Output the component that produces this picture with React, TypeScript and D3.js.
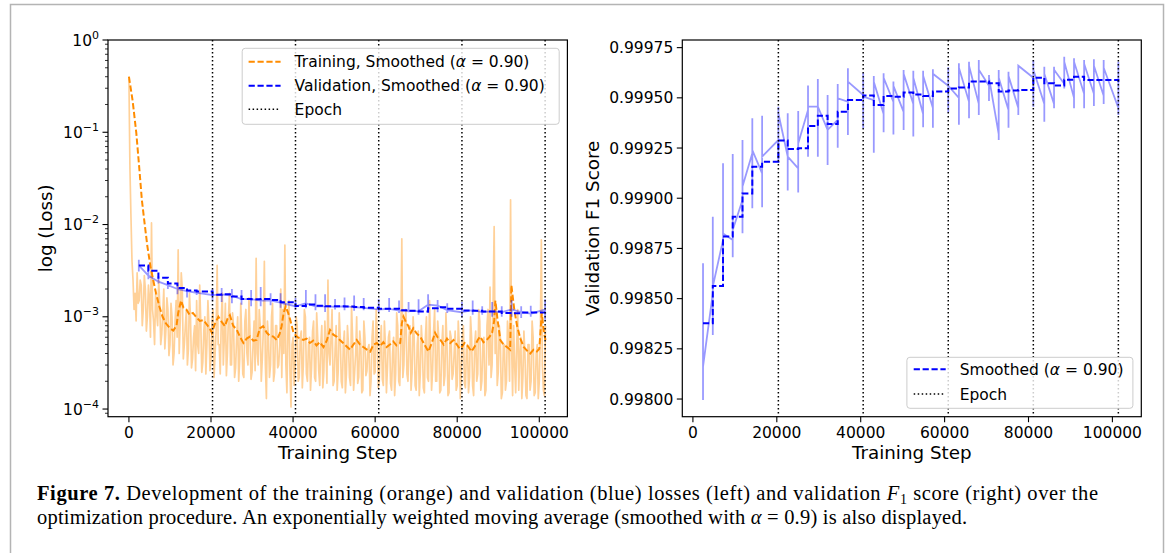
import React from 'react';
import * as d3 from 'd3';

// ---------------- DATA ----------------
const TRAIN_STEP_INTERVAL = 250;
// raw training loss, in units of 1e-4, one value every TRAIN_STEP_INTERVAL steps
const trainLossRawE4 = [
  3800, 400, 120, 40, 25, 12, 18, 9, 30, 14,
  15, 25, 22, 8, 12, 28, 20, 7, 10, 22,
  16, 6, 104, 12, 9, 5, 18, 11, 8, 25,
  14, 5, 6.5, 11, 20, 4.5, 7, 16, 12, 3.8,
  5, 14, 10, 3, 4, 9, 15, 6, 53, 4,
  9, 30, 20, 3.5, 5, 8, 12, 3, 4.5, 18,
  10, 2.8, 3.5, 6, 8, 2.6, 15, 5, 4, 22,
  9, 2.5, 3.2, 7, 10, 2.4, 5, 15, 8, 2.6,
  3.5, 9, 12, 2.2, 4, 7, 36, 5, 5, 2.4,
  9, 18, 3, 6, 14, 2.3, 4, 10, 18, 3,
  3, 11, 8, 2.2, 2.8, 6, 10, 2, 3.5, 14,
  6, 2.4, 2.2, 9, 12, 4, 3, 16, 7, 2.1,
  2.5, 5, 9, 2.6, 43, 4, 3, 12, 8, 2,
  3.5, 7, 40, 3, 1.3, 9, 6, 2.2, 3, 10,
  14, 2, 2.5, 8, 8, 2.8, 3, 5, 20, 2.2,
  12, 4, 60, 3, 1.5, 7, 15, 2.4, 1.05, 5,
  6, 1.8, 2.5, 10, 8, 2, 2.2, 6, 7, 1.7,
  3, 12, 10, 2.4, 2, 5, 6, 1.6, 2.8, 7,
  9, 2.2, 2, 11, 6, 2.6, 1.8, 5, 8, 1.7,
  2.5, 9, 5, 1.9, 25, 4, 3, 6, 12, 1.8,
  2, 4.5, 8, 1.6, 2.6, 11, 6, 2, 1.7, 5,
  7, 1.5, 2.4, 8, 5, 2.2, 1.8, 13, 6, 1.6,
  2.5, 4, 10, 1.9, 2.2, 7, 5, 1.5, 1.6, 9,
  6, 2.3, 2.6, 4.5, 5, 1.4, 2, 6, 9, 2.4,
  2.5, 12, 7, 1.7, 2, 5, 8, 2.1, 1.8, 9,
  5, 1.5, 2.8, 6, 7, 1.9, 1.6, 4, 6, 1.4,
  2.4, 11, 8, 2, 1.8, 5, 70, 2.2, 3, 9,
  12, 2.4, 2, 6, 8, 1.6, 2.5, 10, 6, 1.8,
  1.6, 5, 7, 1.4, 2.4, 8, 5, 1.7, 1.5, 6,
  10, 2.2, 2, 15, 5, 1.6, 2.6, 7, 12, 2,
  2, 9, 6, 1.5, 1.6, 5, 8, 1.8, 2.3, 11,
  5, 1.4, 1.5, 7, 6, 2.1, 2.4, 4, 7, 1.6,
  1.8, 9, 5, 1.3, 2.5, 6, 8, 1.9, 1.7, 4.5,
  5, 1.5, 2.2, 10, 6, 1.8, 1.4, 5, 7, 2,
  2.4, 12, 9, 1.6, 2, 5, 6, 1.4, 1.6, 8,
  12, 3, 21, 2.2, 3, 15, 95, 4, 12, 1.8,
  2.5, 8, 6, 1.3, 1.5, 5, 5, 1.6, 2, 9,
  6, 2, 185, 5, 1.4, 8, 3, 1.5, 5, 12,
  1.6, 4, 6, 1.3, 2.2, 7, 4, 1.4, 1.3, 5,
  5, 1.6, 2, 9, 6, 1.4, 1.5, 4, 5, 1.3,
  2, 6, 68, 3, 1.6, 1.4, 8,
];

// smoothed training loss (EWMA, alpha = 0.9)
const trainSmoothSteps = [
  0, 900, 1800, 2500, 3150, 3850, 4500, 5250, 6000, 6600,
  7400, 8200, 9000, 10000, 10800, 11600, 12000, 12700, 13300, 14000,
  14800, 15600, 16500, 17300, 18200, 19000, 19700, 20200, 21000, 21800,
  22600, 23400, 24000, 24600, 25400, 26300, 27100, 27900, 28700, 29500,
  30300, 31100, 31900, 32700, 33600, 34400, 35200, 36000, 36700, 37200,
  37700, 38200, 38800, 39300, 40100, 40900, 41700, 42500, 43300, 44100,
  44900, 45700, 46500, 47400, 48200, 49000, 49800, 50600, 51400, 52200,
  53000, 53900, 54700, 55500, 56300, 57100, 58000, 58800, 59600, 60400,
  61200, 62000, 62800, 63600, 64400, 65200, 66100, 66500, 66900, 67500,
  68100, 68700, 69300, 70100, 71000, 72000, 73000, 73800, 74600, 75200,
  75900, 76700, 77500, 78300, 79100, 79900, 80600, 81100, 81800, 82600,
  83500, 84300, 85000, 85600, 86400, 87200, 87900, 88500, 89000, 89300,
  89800, 90500, 91300, 92100, 92900, 93200, 93900, 94600, 95400, 96200,
  97000, 97800, 98600, 99400, 100000, 100300, 100600, 101100, 101500,
];
const trainSmoothLossE4 = [
  4000, 2200, 980, 420, 185, 100, 58, 35, 24, 18,
  13, 10, 8.5, 7.5, 7.1, 8.0, 11, 15, 12.5, 12,
  10.5, 11, 9.8, 9.0, 9.2, 8.2, 7.5, 6.7, 8.5, 10,
  8.8, 7.9, 9.5, 10.4, 8.0, 7.2, 6.0, 5.2, 5.8, 6.1,
  5.5, 5.6, 7.5, 7.9, 6.7, 6.2, 6.1, 5.6, 6.5, 7.9,
  11, 13, 11, 9.3, 6.7, 6.1, 5.8, 5.6, 5.8, 5.2,
  5.5, 4.9, 5.3, 4.7, 5.5, 7.2, 6.4, 6.1, 5.6, 5.2,
  4.8, 4.4, 5.0, 5.6, 5.0, 4.7, 4.4, 4.2, 5.0, 5.2,
  4.8, 5.3, 4.7, 5.0, 5.4, 4.9, 5.2, 8.5, 10, 8.8,
  7.9, 6.7, 7.5, 6.6, 6.1, 5.0, 4.2, 5.2, 6.7, 6.0,
  5.6, 5.0, 5.8, 5.2, 5.6, 5.0, 4.5, 4.7, 5.2, 4.8,
  4.2, 4.8, 5.6, 6.1, 5.3, 5.6, 6.1, 6.7, 9.0, 15,
  9.5, 5.6, 5.0, 4.7, 4.4, 22, 12, 7.9, 5.8, 4.7,
  4.3, 4.0, 4.4, 4.2, 4.5, 7.0, 11, 7.0, 5.6,
];

// validation evaluations
const valSteps = [
  2410, 4740, 7180, 9490, 11820, 14160, 16500, 20370, 22600, 25100,
  27440, 29780, 32110, 34520, 36950, 40590, 43120, 45460, 47800, 50230,
  52540, 54880, 57210, 60870, 63410, 65820, 68150, 70580, 72900, 75230,
  77570, 81150, 83770, 86090, 88520, 90850, 93260, 95590, 97920, 101420,
];
// validation loss, units of 1e-3
const valLossLoE3 = [
  3.1, 2.55, 2.3, 2.0, 1.75, 1.62, 1.72, 1.5, 1.45, 1.4,
  1.35, 1.3, 1.3, 1.33, 1.25, 1.2, 1.24, 1.18, 1.13, 1.2,
  1.18, 1.16, 1.18, 1.13, 1.13, 1.1, 1.12, 1.05, 1.1, 1.12,
  1.1, 0.98, 1.05, 1.05, 1.0, 1.0, 1.0, 0.97, 1.0, 0.93,
];
const valLossHiE3 = [
  4.15, 3.6, 2.75, 2.4, 2.1, 1.9, 1.95, 2.0, 2.05, 2.0,
  1.95, 1.95, 2.1, 1.8, 1.8, 1.6, 1.95, 1.75, 1.75, 1.56,
  1.62, 1.7, 1.6, 1.55, 1.6, 1.5, 1.45, 1.55, 1.75, 1.52,
  1.4, 1.45, 1.5, 1.3, 1.45, 1.3, 1.52, 1.3, 1.32, 1.55,
];
const valLossMidE3 = [
  3.6, 2.8, 2.4, 2.2, 2.0, 1.9, 1.82, 1.72, 1.75, 1.7,
  1.55, 1.55, 1.5, 1.5, 1.42, 1.3, 1.4, 1.3, 1.3, 1.28,
  1.3, 1.27, 1.25, 1.2, 1.22, 1.17, 1.15, 1.15, 1.35, 1.32,
  1.18, 1.12, 1.18, 1.12, 1.15, 1.12, 1.2, 1.12, 1.08, 1.2,
];
const valLossSmoothE3 = [
  3.6, 3.15, 2.65, 2.3, 2.05, 1.93, 1.88, 1.73, 1.75, 1.66,
  1.56, 1.55, 1.56, 1.52, 1.44, 1.31, 1.36, 1.32, 1.30, 1.30,
  1.29, 1.28, 1.25, 1.22, 1.22, 1.18, 1.16, 1.14, 1.24, 1.27,
  1.22, 1.17, 1.16, 1.14, 1.14, 1.10, 1.09, 1.11, 1.11, 1.12,
];
// validation F1
const f1Lo = [
  0.997995, 0.998319, 0.998609, 0.998706, 0.998825, 0.998950, 0.998955, 0.999182, 0.999038, 0.999028,
  0.999207, 0.999207, 0.999166, 0.999252, 0.999315, 0.999348, 0.999227, 0.999328, 0.999318, 0.999340,
  0.999307, 0.999353, 0.999351, 0.999426, 0.999366, 0.999398, 0.999415, 0.999484, 0.999290, 0.999351,
  0.999415, 0.999456, 0.999381, 0.999448, 0.999547, 0.999448, 0.999448, 0.999459, 0.999469, 0.999415,
];
const f1Hi = [
  0.998676, 0.998908, 0.999174, 0.999220, 0.999290, 0.999398, 0.999411, 0.999456, 0.999423, 0.999434,
  0.999561, 0.999594, 0.999514, 0.999569, 0.999647, 0.999625, 0.999609, 0.999622, 0.999581, 0.999639,
  0.999635, 0.999635, 0.999642, 0.999652, 0.999672, 0.999680, 0.999689, 0.999614, 0.999639, 0.999630,
  0.999660, 0.999689, 0.999655, 0.999655, 0.999705, 0.999697, 0.999689, 0.999692, 0.999689, 0.999680,
];
const f1Enter = [
  0.998161, 0.998526, 0.998792, 0.998792, 0.998991, 0.999224, 0.999124, 0.999290, 0.999207, 0.999149,
  0.999439, 0.999456, 0.999340, 0.999390, 0.999481, 0.999514, 0.999489, 0.999420, 0.999480, 0.999430,
  0.999470, 0.999420, 0.999450, 0.999560, 0.999500, 0.999480, 0.999470, 0.999560, 0.999320, 0.999440,
  0.999450, 0.999600, 0.999470, 0.999470, 0.999570, 0.999500, 0.999520, 0.999520, 0.999510, 0.999450,
];
const f1Exit = [
  0.998161, 0.998560, 0.998825, 0.998842, 0.999058, 0.999240, 0.999207, 0.999423, 0.999207, 0.999273,
  0.999456, 0.999456, 0.999340, 0.999498, 0.999581, 0.999506, 0.999580, 0.999600, 0.999560, 0.999620,
  0.999600, 0.999610, 0.999620, 0.999560, 0.999650, 0.999660, 0.999640, 0.999600, 0.999600, 0.999610,
  0.999660, 0.999640, 0.999620, 0.999640, 0.999680, 0.999680, 0.999670, 0.999660, 0.999650, 0.999430,
];
const f1Smooth = [
  0.998377, 0.998563, 0.998809, 0.998908, 0.999024, 0.999157, 0.999182, 0.999287, 0.999245, 0.999249,
  0.999360, 0.999411, 0.999370, 0.999431, 0.999489, 0.999511, 0.999464, 0.999509, 0.999506, 0.999526,
  0.999516, 0.999509, 0.999531, 0.999547, 0.999552, 0.999581, 0.999581, 0.999572, 0.999531, 0.999536,
  0.999539, 0.999600, 0.999573, 0.999562, 0.999590, 0.999605, 0.999589, 0.999589, 0.999589, 0.999580,
];

const epochSteps = [20370, 40590, 60870, 81150, 101420];
const xTickValues = [0, 20000, 40000, 60000, 80000, 100000];
const lossTickExponents = [0, -1, -2, -3, -4];
const f1TickValues = [0.998, 0.99825, 0.9985, 0.99875, 0.999, 0.99925, 0.9995, 0.99975];

// ---------------- LAYOUT ----------------
const W = 1170;
const H = 553;
const PL = { x0: 108, x1: 567.4, y0: 40, y1: 416.7 };
const PR = { x0: 682.3, x1: 1141.3, y0: 40, y1: 416.7 };
const FONT = 'DejaVu Sans, Verdana, sans-serif';
const SERIF = 'Liberation Serif, Times New Roman, serif';
const ORANGE = '#ff8c00';
const BLUE = '#0000ff';
const TICK_FS = 15.5;
const LABEL_FS = 18.3;

const xL = d3.scaleLinear().domain([-5100, 106850]).range([PL.x0, PL.x1]);
const yL = d3.scaleLog().domain([Math.pow(10, -4.083), 1]).range([PL.y1, PL.y0]);
const xR = d3.scaleLinear().domain([-2530, 106890]).range([PR.x0, PR.x1]);
const yR = d3.scaleLinear().domain([0.997912, 0.999788]).range([PR.y1, PR.y0]);

type P = [number, number];

function App() {
  const lineL = d3.line<P>().x((d) => xL(d[0])).y((d) => yL(d[1]));
  const stepL = d3.line<P>().x((d) => xL(d[0])).y((d) => yL(d[1])).curve(d3.curveStepAfter);
  const lineR = d3.line<P>().x((d) => xR(d[0])).y((d) => yR(d[1]));
  const stepR = d3.line<P>().x((d) => xR(d[0])).y((d) => yR(d[1])).curve(d3.curveStepAfter);

  const trainRawPts: P[] = trainLossRawE4.map((v, i) => [i * TRAIN_STEP_INTERVAL, v * 1e-4]);
  const n = Math.min(trainSmoothSteps.length, trainSmoothLossE4.length);
  const trainSmoothPts: P[] = trainSmoothSteps.slice(0, n).map((s, i) => [s, trainSmoothLossE4[i] * 1e-4]);

  const valLossRawPts: P[] = [];
  valSteps.forEach((s, i) => {
    valLossRawPts.push([s, valLossMidE3[i] * 1e-3]);
    valLossRawPts.push([s, valLossLoE3[i] * 1e-3]);
    valLossRawPts.push([s, valLossHiE3[i] * 1e-3]);
    valLossRawPts.push([s, valLossMidE3[i] * 1e-3]);
  });
  const valLossSmoothPts: P[] = valSteps.map((s, i) => [s, valLossSmoothE3[i] * 1e-3]);

  const f1RawPts: P[] = [];
  valSteps.forEach((s, i) => {
    f1RawPts.push([s, f1Enter[i]]);
    f1RawPts.push([s, f1Lo[i]]);
    f1RawPts.push([s, f1Hi[i]]);
    f1RawPts.push([s, f1Exit[i]]);
  });
  const f1SmoothPts: P[] = valSteps.map((s, i) => [s, f1Smooth[i]]);

  // log minor ticks
  const [dLo, dHi] = yL.domain();
  const minorTicks: number[] = [];
  for (let e = -5; e <= 0; e++) {
    for (let m = 2; m <= 9; m++) {
      const v = m * Math.pow(10, e);
      if (v >= dLo && v <= dHi) minorTicks.push(v);
    }
  }

  const dash = '6.2 2.7';
  const dot = '1.5 2.5';

  const xAxis = (sx: d3.ScaleLinear<number, number>, y: number, key: string) => (
    <g key={key}>
      {xTickValues.map((t) => (
        <g key={t}>
          <line x1={sx(t)} x2={sx(t)} y1={y} y2={y + 5.5} stroke="#000" strokeWidth={1.1} />
          <text x={sx(t)} y={y + 21} textAnchor="middle" fontSize={TICK_FS} fontFamily={FONT} fill="#000">
            {String(t)}
          </text>
        </g>
      ))}
    </g>
  );

  const legendRow = (x0: number, y: number, stroke: string, da: string, children: React.ReactNode, key: string) => (
    <g key={key}>
      <line x1={x0} x2={x0 + 32} y1={y} y2={y} stroke={stroke} strokeWidth={da === dot ? 1.5 : 2} strokeDasharray={da} />
      <text x={x0 + 46} y={y} dy="0.36em" fontSize={TICK_FS} fontFamily={FONT} fill="#000">
        {children}
      </text>
    </g>
  );

  const alphaLabel = (prefix: string) => (
    <>
      {prefix}(<tspan fontStyle="italic">α</tspan> = 0.90)
    </>
  );

  return (
    <svg
      width={W}
      height={H}
      viewBox={`0 0 ${W} ${H}`}
      style={{ position: 'absolute', left: 0, top: 0, background: '#fff' }}
    >
      <rect x={0} y={0} width={W} height={H} fill="#fff" />
      <rect x={10.5} y={4.5} width={1153} height={620} fill="none" stroke="#b4b4b4" strokeWidth={1.5} />
      <defs>
        <clipPath id="clipL">
          <rect x={PL.x0} y={PL.y0} width={PL.x1 - PL.x0} height={PL.y1 - PL.y0} />
        </clipPath>
        <clipPath id="clipR">
          <rect x={PR.x0} y={PR.y0} width={PR.x1 - PR.x0} height={PR.y1 - PR.y0} />
        </clipPath>
      </defs>

      {/* ---------- LEFT PANEL ---------- */}
      <g clipPath="url(#clipL)">
        <path d={lineL(trainRawPts) || ''} fill="none" stroke={ORANGE} strokeOpacity={0.4} strokeWidth={1.7} strokeLinejoin="round" />
        <path d={lineL(trainSmoothPts) || ''} fill="none" stroke={ORANGE} strokeWidth={2} strokeDasharray={dash} />
        <path d={lineL(valLossRawPts) || ''} fill="none" stroke={BLUE} strokeOpacity={0.4} strokeWidth={1.8} />
        <path d={stepL(valLossSmoothPts) || ''} fill="none" stroke={BLUE} strokeWidth={2} strokeDasharray={dash} />
        {epochSteps.map((s) => (
          <line key={s} x1={xL(s)} x2={xL(s)} y1={PL.y0} y2={PL.y1} stroke="#000" strokeWidth={1.5} strokeDasharray={dot} />
        ))}
      </g>
      <rect x={PL.x0} y={PL.y0} width={PL.x1 - PL.x0} height={PL.y1 - PL.y0} fill="none" stroke="#000" strokeWidth={1.2} />
      {xAxis(xL, PL.y1, 'xl')}
      {minorTicks.map((v) => (
        <line key={v} x1={PL.x0 - 3} x2={PL.x0} y1={yL(v)} y2={yL(v)} stroke="#000" strokeWidth={0.8} />
      ))}
      {lossTickExponents.map((e) => {
        const y = yL(Math.pow(10, e));
        return (
          <g key={e}>
            <line x1={PL.x0 - 5.5} x2={PL.x0} y1={y} y2={y} stroke="#000" strokeWidth={1.1} />
            <text x={PL.x0 - 9} y={y} dy="0.36em" textAnchor="end" fontSize={TICK_FS} fontFamily={FONT} fill="#000">
              <tspan>10</tspan>
              <tspan dy={-7} fontSize={11}>{e === 0 ? '0' : '\u2212' + String(-e)}</tspan>
            </text>
          </g>
        );
      })}
      <text
        transform={`translate(52, ${(PL.y0 + PL.y1) / 2}) rotate(-90)`}
        textAnchor="middle"
        fontSize={LABEL_FS}
        fontFamily={FONT}
        fill="#000"
      >
        log (Loss)
      </text>
      <text x={(PL.x0 + PL.x1) / 2} y={458.5} textAnchor="middle" fontSize={LABEL_FS} fontFamily={FONT} fill="#000">
        Training Step
      </text>
      {/* legend left */}
      <rect x={242.2} y={48.3} width={317} height={76} rx={3} fill="#fff" fillOpacity={0.8} stroke="#cccccc" strokeWidth={1} />
      {legendRow(248.6, 61.7, ORANGE, dash, alphaLabel('Training, Smoothed '), 'l1')}
      {legendRow(248.6, 85.7, BLUE, dash, alphaLabel('Validation, Smoothed '), 'l2')}
      {legendRow(248.6, 109.3, '#000', dot, 'Epoch', 'l3')}

      {/* ---------- RIGHT PANEL ---------- */}
      <g clipPath="url(#clipR)">
        <path d={lineR(f1RawPts) || ''} fill="none" stroke={BLUE} strokeOpacity={0.4} strokeWidth={1.8} />
        <path d={stepR(f1SmoothPts) || ''} fill="none" stroke={BLUE} strokeWidth={2} strokeDasharray={dash} />
        {epochSteps.map((s) => (
          <line key={s} x1={xR(s)} x2={xR(s)} y1={PR.y0} y2={PR.y1} stroke="#000" strokeWidth={1.5} strokeDasharray={dot} />
        ))}
      </g>
      <rect x={PR.x0} y={PR.y0} width={PR.x1 - PR.x0} height={PR.y1 - PR.y0} fill="none" stroke="#000" strokeWidth={1.2} />
      {xAxis(xR, PR.y1, 'xr')}
      {f1TickValues.map((t) => (
        <g key={t}>
          <line x1={PR.x0 - 5.5} x2={PR.x0} y1={yR(t)} y2={yR(t)} stroke="#000" strokeWidth={1.1} />
          <text x={PR.x0 - 9} y={yR(t)} dy="0.36em" textAnchor="end" fontSize={TICK_FS} fontFamily={FONT} fill="#000">
            {d3.format('.5f')(t)}
          </text>
        </g>
      ))}
      <text
        transform={`translate(599, ${(PR.y0 + PR.y1) / 2}) rotate(-90)`}
        textAnchor="middle"
        fontSize={LABEL_FS}
        fontFamily={FONT}
        fill="#000"
      >
        Validation F1 Score
      </text>
      <text x={(PR.x0 + PR.x1) / 2} y={458.5} textAnchor="middle" fontSize={LABEL_FS} fontFamily={FONT} fill="#000">
        Training Step
      </text>
      {/* legend right */}
      <rect x={906.9} y={357.3} width={226} height={51} rx={3} fill="#fff" fillOpacity={0.8} stroke="#cccccc" strokeWidth={1} />
      {legendRow(913.7, 369.3, BLUE, dash, alphaLabel('Smoothed '), 'r1')}
      {legendRow(913.7, 394, '#000', dot, 'Epoch', 'r2')}

      {/* ---------- CAPTION ---------- */}
      <text x={37} y={500} fontSize={20.5} fontFamily={SERIF} fill="#000" textLength={1061} lengthAdjust="spacing">
        <tspan fontWeight="bold">Figure 7.</tspan>
        <tspan> Development of the training (orange) and validation (blue) losses (left) and validation </tspan>
        <tspan fontStyle="italic">F</tspan>
        <tspan dy={4} fontSize={14}>1</tspan>
        <tspan dy={-4}> score (right) over the</tspan>
      </text>
      <text x={37} y={524} fontSize={20.5} fontFamily={SERIF} fill="#000" textLength={930} lengthAdjust="spacing">
        optimization procedure. An exponentially weighted moving average (smoothed with <tspan fontStyle="italic">α</tspan> = 0.9) is also displayed.
      </text>
    </svg>
  );
}

export default App;
